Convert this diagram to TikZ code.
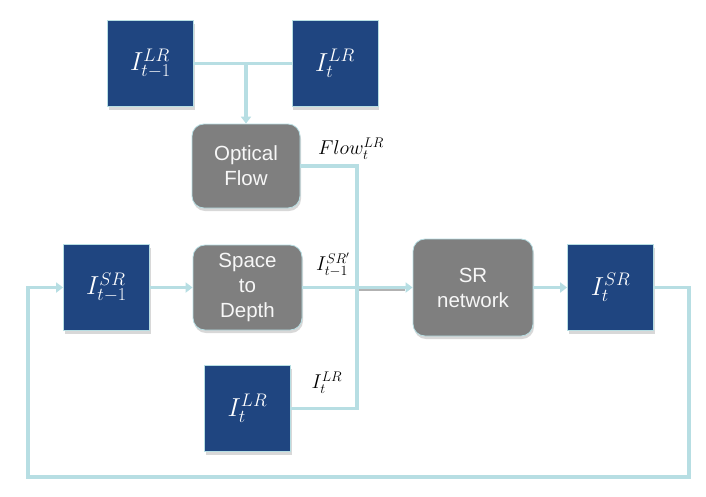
\RequirePackage{fix-cm}
\documentclass[tikz,border=0pt]{standalone}
\usepackage{fontspec}
\newfontfamily\boxfont{Liberation Sans}
\usepackage{tikz}
\usetikzlibrary{arrows.meta,shadows}
\definecolor{frameblue}{RGB}{31,69,128}
\definecolor{linkcyan}{RGB}{183,222,227}
\definecolor{opgray}{RGB}{127,127,127}

\begin{document}
\begin{tikzpicture}[x=1pt,y=-1pt,
  img/.style={draw=linkcyan,line width=0.8pt,fill=frameblue,text=white,
    minimum width=86,minimum height=86,inner sep=0pt,
    font=\fontsize{26}{30}\selectfont,
    drop shadow={shadow xshift=1pt,shadow yshift=-3pt,opacity=.3}},
  op/.style={draw=linkcyan,line width=0.8pt,fill=opgray,text=white!94!gray,
    rounded corners=12pt,align=center,inner sep=0pt,
    font=\boxfont\fontsize{20.5}{25}\selectfont,
    drop shadow={shadow xshift=1pt,shadow yshift=-3pt,opacity=.3}},
  link/.style={linkcyan,line width=3.5pt},
  flow/.style={link,-{Triangle[length=7pt,width=10pt]}},
  lbl/.style={font=\fontsize{20}{24}\selectfont}]
\fill[white] (0,0) rectangle (706,496);
\useasboundingbox (0,0) rectangle (706,496);

% frames
\node[img] (lrprev) at (150.5,63.5) {$I^{LR}_{t-1}$};
\node[img] (lrcur) at (335,63.5) {$I^{LR}_{t}$};
\node[img] (srprev) at (106.5,287.5) {$I^{SR}_{t-1}$};
\node[img] (srcur) at (610.5,287.5) {$I^{SR}_{t}$};
\node[img] (lrin) at (247.5,408.5) {$I^{LR}_{t}$};

% operations
\node[op,minimum width=108,minimum height=84] (optflow) at (246,166) {Optical\\Flow};
\node[op,minimum width=109,minimum height=85] (s2d) at (247.5,287.5) {Space\\to\\Depth};
\node[op,minimum width=120,minimum height=97] (srnet) at (473,287.5) {SR\\network};

% labels
\node[lbl] (flowlbl) at (351,149) {$Flow^{LR}_t$};
\node[lbl] (warplbl) at (333,265) {$I^{SR'}_{t-1}$};
\node[lbl] (inlbl) at (327,383) {$I^{LR}_t$};

\coordinate (tm) at (246,63.5);
\coordinate (j) at (357,287.5);
\coordinate (fr) at (689,477);
\coordinate (fl) at (28,477);

% connectors
\draw[link] (lrprev) -- (lrcur);
\draw[flow] (tm) -- (optflow);
\draw[link] (optflow.east) -| (j);
\draw[link] (lrin.east) -| (j);
\draw[flow] (srprev) -- (s2d);
\draw[link] (s2d.east) -- (j);
\draw[gray,opacity=.6,line width=3.5pt] ([xshift=2pt,yshift=-1.5pt]j) -- ([xshift=-8pt,yshift=-1.5pt]srnet.west);
\draw[flow] (j) -- (srnet.west);
\draw[flow] (srnet) -- (srcur);
\draw[flow] (srcur.east) -| (fr) -- (fl) |- (srprev.west);
\end{tikzpicture}
\end{document}
